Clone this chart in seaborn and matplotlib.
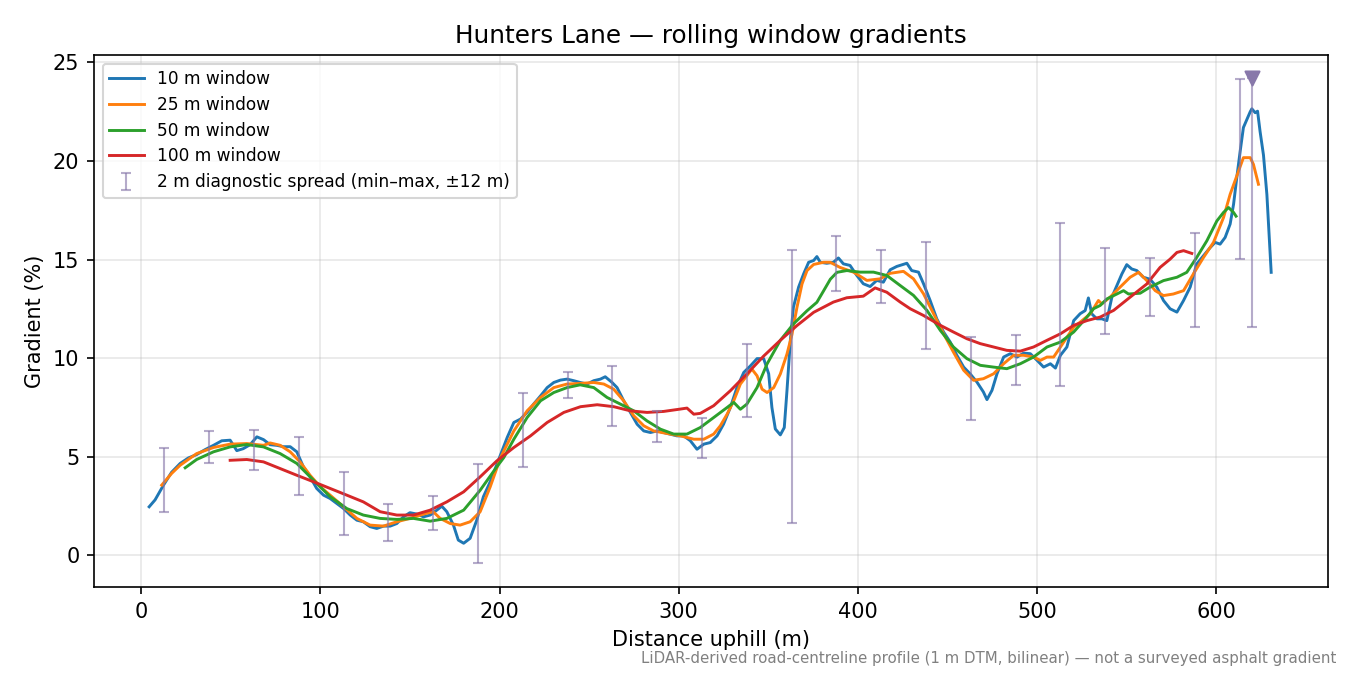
import matplotlib
matplotlib.use("Agg")
import matplotlib.pyplot as plt
import seaborn as sns

# ================= DATA =================
# 10 m window
blue_x = [4.5, 7.8, 12.5, 17, 21.8, 26.4, 31, 35.7, 40.4, 45, 49.7, 53.4, 57, 60.8, 64.6, 68.3, 72, 75.7,
          79.4, 83.2, 86.9, 90.6, 94.3, 98, 101.8, 105.5, 109.2, 113, 116.7, 120.4, 124, 127.8, 131.5,
          135.3, 139, 142.7, 146.4, 150, 154, 157.6, 161.3, 165, 167.8, 170.6, 174.3, 177, 180, 183.6,
          187.3, 191, 194.8, 198.5, 204.3, 208, 211.7, 215.4, 219, 222.9, 226.6, 230.3, 234, 237.7,
          241.4, 245, 248.9, 252.6, 256.3, 259, 262.8, 265.6, 269.3, 273, 276.8, 280.5, 284.2, 288,
          291.6, 295.4, 299, 302.8, 306.5, 310.2, 314, 317.6, 321.4, 325, 328.8, 332.5, 336.3, 340,
          343.7, 347.4, 350.2, 352, 353.9, 356.7, 358.9, 360.4, 362.3, 364, 366.9, 369.7, 372.5, 375.3,
          377.1, 379, 382.6, 386.3, 389.1, 391.9, 395.6, 399.4, 403, 406.8, 410.5, 414.2, 418, 421.7,
          424.5, 427.3, 430, 433.8, 436.6, 440.3, 444, 447.8, 451.5, 455.2, 459, 462.6, 466.4, 470,
          472, 474.8, 477.6, 481.3, 485, 488.8, 492.5, 496.2, 500, 503.6, 507.4, 510.2, 513, 516.6,
          520.4, 524, 526.8, 528.6, 530.5, 533.3, 536.1, 538.9, 541.7, 544.5, 547.3, 550, 552.8, 555.6,
          559.3, 563, 566.8, 570.5, 574.2, 578, 581.7, 585.4, 589, 592.8, 596.5, 599.3, 602.1, 604.9,
          607.7, 609.6, 611.4, 613.3, 615.1, 617, 618.9, 619.8, 621.7, 623, 624.4, 626.3, 628.2,
          629.7, 630.6]
blue_y = [2.45, 2.8, 3.55, 4.2, 4.65, 4.93, 5.1, 5.35, 5.57, 5.8, 5.83, 5.3, 5.4, 5.6, 6.0, 5.86, 5.6, 5.57,
          5.5, 5.5, 5.24, 4.47, 3.97, 3.38, 3.04, 2.87, 2.62, 2.36, 2.03, 1.77, 1.69, 1.44, 1.35,
          1.47, 1.47, 1.6, 1.94, 2.15, 2.08, 1.94, 2.03, 2.28, 2.48, 2.2, 1.52, 0.76, 0.6, 0.85,
          1.77, 2.96, 3.72, 4.6, 5.97, 6.73, 6.9, 7.24, 7.66, 8.08, 8.5, 8.76, 8.88, 8.93,
          8.85, 8.76, 8.68, 8.85, 8.93, 9.05, 8.76, 8.5, 7.83, 7.24, 6.64, 6.3, 6.22, 6.3,
          6.22, 6.14, 6.05, 6.05, 5.8, 5.37, 5.63, 5.71, 6.05, 6.64, 7.49, 8.5, 9.27, 9.6,
          9.97, 9.97, 9.2, 7.49, 6.4, 6.1, 6.47, 8.34, 10.9, 12.58, 13.6, 14.27, 14.86, 14.95,
          15.15, 14.86, 14.81, 14.86, 15.08, 14.78, 14.7, 14.19, 13.77, 13.63, 13.94, 13.85, 14.48, 14.65,
          14.73, 14.81, 14.44, 14.36, 13.77, 12.92, 11.99, 11.32, 10.81, 10.14, 9.54, 9.2, 8.78, 8.28,
          7.89, 8.36, 9.2, 10.05, 10.22, 10.05, 10.25, 10.22, 9.88, 9.54, 9.71, 9.49, 10.14, 10.56,
          11.9, 12.25, 12.41, 13.05, 12.24, 11.99, 11.99, 11.9, 13.09, 13.68, 14.27, 14.74, 14.52, 14.44,
          14.1, 14.0, 13.6, 12.92, 12.5, 12.33, 12.92, 13.6, 14.77, 15.19, 15.6, 15.87, 15.78, 16.12,
          16.8, 17.8, 19.16, 20.5, 21.7, 22.1, 22.5, 22.65, 22.45, 22.53, 21.5, 20.3, 18.3,
          15.8, 14.35]

# 25 m window
orange_x = [11.5, 17, 21.8, 31, 40.4, 49.7, 59, 68.3, 72, 77.6, 83.2, 88.7, 94.3, 100, 105.5, 113, 120.4,
            127.8, 135.3, 142.7, 150, 157.6, 163, 166.9, 172.5, 178, 183.6, 189.2, 194.8, 200.6, 208,
            215.4, 222.9, 230.3, 237.7, 245, 252.6, 258.2, 263.7, 269.3, 274.9, 280.5, 286, 293.5,
            300.9, 308.4, 314, 319.5, 323.2, 327, 330.7, 334.4, 338, 340.8, 343.7, 346.5, 349.3, 353,
            356.7, 360.4, 363.2, 366, 368.8, 371.6, 375.3, 380.9, 384.5, 390, 397.5, 405, 412.4, 418,
            425.4, 431, 436.6, 442.2, 447.8, 453.3, 459, 464.5, 470, 475.7, 481.3, 486.9, 492.5, 498,
            501.8, 505.5, 509.2, 513, 520.4, 524, 529.6, 534.2, 536.1, 540.7, 546.3, 551.9, 556.6,
            561.2, 565.9, 570.5, 576, 581.7, 587.2, 592.8, 598.4, 604, 607.7, 611.4, 615.1, 618.9,
            620.7, 623.5]
orange_y = [3.55, 4.14, 4.56, 5.15, 5.46, 5.63, 5.66, 5.57, 5.69, 5.57, 5.24, 4.73, 4.05, 3.46, 3.04, 2.45, 1.86,
            1.52, 1.47, 1.69, 1.86, 2.08, 2.2, 1.86, 1.6, 1.52, 1.69, 2.2, 3.46, 4.95, 6.3,
            7.32, 8.0, 8.5, 8.68, 8.71, 8.76, 8.68, 8.42, 7.83, 7.07, 6.56, 6.3, 6.17,
            6.05, 5.88, 5.88, 6.14, 6.56, 7.15, 7.83, 8.68, 9.1, 9.44, 9.1, 8.42, 8.25, 8.5,
            9.19, 10.2, 11.2, 12.58, 13.76, 14.44, 14.75, 14.86, 14.86, 14.6, 14.36, 13.94, 14.02, 14.3,
            14.4, 14.02, 13.26, 12.25, 11.23, 10.3, 9.38, 8.87, 8.95, 9.2, 9.71, 10.14, 10.14, 10.05,
            9.88, 10.05, 10.05, 10.56, 11.57, 11.82, 12.24, 12.92, 12.75, 13.09, 13.6, 14.1, 14.35,
            13.93, 13.42, 13.17, 13.25, 13.42, 14.27, 15.1, 15.87, 17.13, 18.31, 19.24, 20.17, 20.17,
            19.83, 18.82]

# 50 m window
green_x = [24.6, 31, 40.4, 49.7, 59, 68.3, 77.6, 86.9, 96.2, 105.5, 114.8, 124, 133.4, 142.7, 152, 161.3,
           170.6, 180, 189.2, 198.5, 202.4, 208, 215.4, 222.9, 230.3, 237.7, 245, 252.6, 260, 267.5,
           274.9, 282.3, 289.8, 297.2, 304.6, 312, 319.5, 327, 330.7, 334.4, 338, 343.7, 349.3, 356.7,
           364, 371.6, 377.1, 380.9, 384.6, 388.3, 393.8, 401.2, 408.7, 416.1, 423.6, 431, 438.5, 446,
           453.3, 460.8, 468.3, 475.7, 483.1, 490.6, 498, 505.5, 513, 520.4, 527.8, 531.4, 535.2,
           538.9, 544.5, 548.2, 551, 557.5, 563, 570.5, 578, 583.5, 589, 594.7, 600.3, 604, 606.8,
           609.6, 611]
green_y = [4.43, 4.85, 5.24, 5.49, 5.61, 5.49, 5.15, 4.65, 3.8, 2.96, 2.36, 2.03, 1.86, 1.81, 1.86, 1.72,
           1.86, 2.28, 3.29, 4.48, 4.95, 5.88, 6.98, 7.83, 8.25, 8.5, 8.64, 8.5, 8.0, 7.66,
           7.32, 6.81, 6.39, 6.14, 6.14, 6.47, 6.98, 7.49, 7.75, 7.4, 7.66, 8.5, 9.7, 10.9,
           11.73, 12.4, 12.83, 13.42, 14.0, 14.35, 14.44, 14.36, 14.36, 14.19, 13.68, 13.18, 12.42, 11.4,
           10.56, 9.97, 9.63, 9.54, 9.46, 9.71, 10.05, 10.56, 10.81, 11.32, 12.08, 12.5, 12.67,
           13.0, 13.25, 13.42, 13.25, 13.29, 13.6, 13.93, 14.1, 14.35, 15.1, 15.95, 16.96, 17.39, 17.64,
           17.39, 17.2]

# 100 m window
red_x = [49.7, 59, 68.3, 77.6, 86.9, 96.2, 105.5, 114.8, 124, 133.4, 142.7, 152, 161.3, 170.6, 180, 189.2,
         198.5, 208, 217.3, 226.6, 235.9, 245.2, 254.5, 263.8, 273, 282.3, 291.6, 300.9, 304.6, 308.4,
         312, 319.5, 328.8, 338, 347.4, 356.7, 366, 375.3, 386.3, 393.8, 403, 409.6, 416.1, 423.6,
         429.2, 436.6, 446, 453.3, 460.8, 468.3, 475.7, 483.1, 490.6, 498, 505.5, 513, 520.4, 527.8,
         535.2, 542.7, 551.9, 561.2, 568.6, 574.2, 578, 581.7, 586.3]
red_y = [4.81, 4.85, 4.73, 4.39, 4.05, 3.72, 3.38, 3.04, 2.7, 2.2, 2.03, 2.03, 2.28, 2.7, 3.21, 3.97,
         4.78, 5.46, 6.05, 6.73, 7.24, 7.53, 7.63, 7.53, 7.32, 7.24, 7.29, 7.41, 7.46, 7.15,
         7.19, 7.58, 8.34, 9.19, 10.1, 10.9, 11.65, 12.32, 12.84, 13.06, 13.14, 13.56, 13.34, 12.84,
         12.5, 12.16, 11.66, 11.32, 10.98, 10.73, 10.56, 10.39, 10.35, 10.56, 10.9, 11.23, 11.66, 11.9,
         12.08, 12.42, 13.09, 13.76, 14.6, 15.02, 15.36, 15.45, 15.31]

# 2 m diagnostic spread (min-max within +-12 m)
diag_x = [13, 38, 63, 88, 113, 138, 163, 188, 213, 238, 263, 288, 313, 338, 363, 388, 413, 438, 463,
          488, 513, 538, 563, 588, 613, 620]
diag_lo = [2.2, 4.65, 4.3, 3.04, 1.02, 0.72, 1.28, -0.39, 4.45, 7.97, 6.56, 5.75, 4.93, 7.0, 1.65, 13.4,
           12.8, 10.46, 6.88, 8.64, 8.58, 11.2, 12.14, 11.56, 15.03, 11.55]
diag_hi = [5.44, 6.3, 6.33, 6.0, 4.2, 2.6, 2.99, 4.63, 8.25, 9.3, 9.58, 7.32, 6.96, 10.7, 15.5, 16.2,
           15.5, 15.9, 11.07, 11.15, 16.83, 15.58, 15.06, 16.33, 24.14, 24.2]
peak_x = [620]
peak_y = [24.2]

# ================= PLOT =================
fig, ax = plt.subplots(figsize=(9, 4.5), dpi=150)
fig.subplots_adjust(left=0.0696, right=0.9837, top=0.9185, bottom=0.1304)

sns.lineplot(x=blue_x, y=blue_y, color="#1f77b4", linewidth=1.4, label="10 m window", ax=ax)
sns.lineplot(x=orange_x, y=orange_y, color="#ff7f0e", linewidth=1.4, label="25 m window", ax=ax)
sns.lineplot(x=green_x, y=green_y, color="#2ca02c", linewidth=1.4, label="50 m window", ax=ax)
sns.lineplot(x=red_x, y=red_y, color="#d62728", linewidth=1.4, label="100 m window", ax=ax)

mid = [(lo + hi) / 2 for lo, hi in zip(diag_lo, diag_hi)]
err = [(hi - lo) / 2 for lo, hi in zip(diag_lo, diag_hi)]
ax.errorbar(diag_x, mid, yerr=err, fmt="none", ecolor="#8474a8", alpha=0.6,
            elinewidth=1.0, capsize=2.5, label="2 m diagnostic spread (min\u2013max, \u00b112 m)")
ax.scatter(peak_x, peak_y, marker="v", s=45, color="#8878aa", zorder=5)

ax.set_xlim(-26.3, 662.3)
ax.set_ylim(-1.62, 25.38)
ax.set_xticks([0, 100, 200, 300, 400, 500, 600])
ax.set_yticks([0, 5, 10, 15, 20, 25])
ax.grid(True, alpha=0.3)
ax.set_xlabel("Distance uphill (m)")
ax.set_ylabel("Gradient (%)")
ax.set_title("Hunters Lane \u2014 rolling window gradients", fontsize=11.9)
ax.legend(loc="upper left", fontsize=8.2, labelspacing=0.45)

fig.text(0.99, 0.013, "LiDAR-derived road-centreline profile (1 m DTM, bilinear) \u2014 not a surveyed asphalt gradient",
         ha="right", va="bottom", fontsize=7.2, color="gray")

fig.savefig("out.png", dpi=150)
